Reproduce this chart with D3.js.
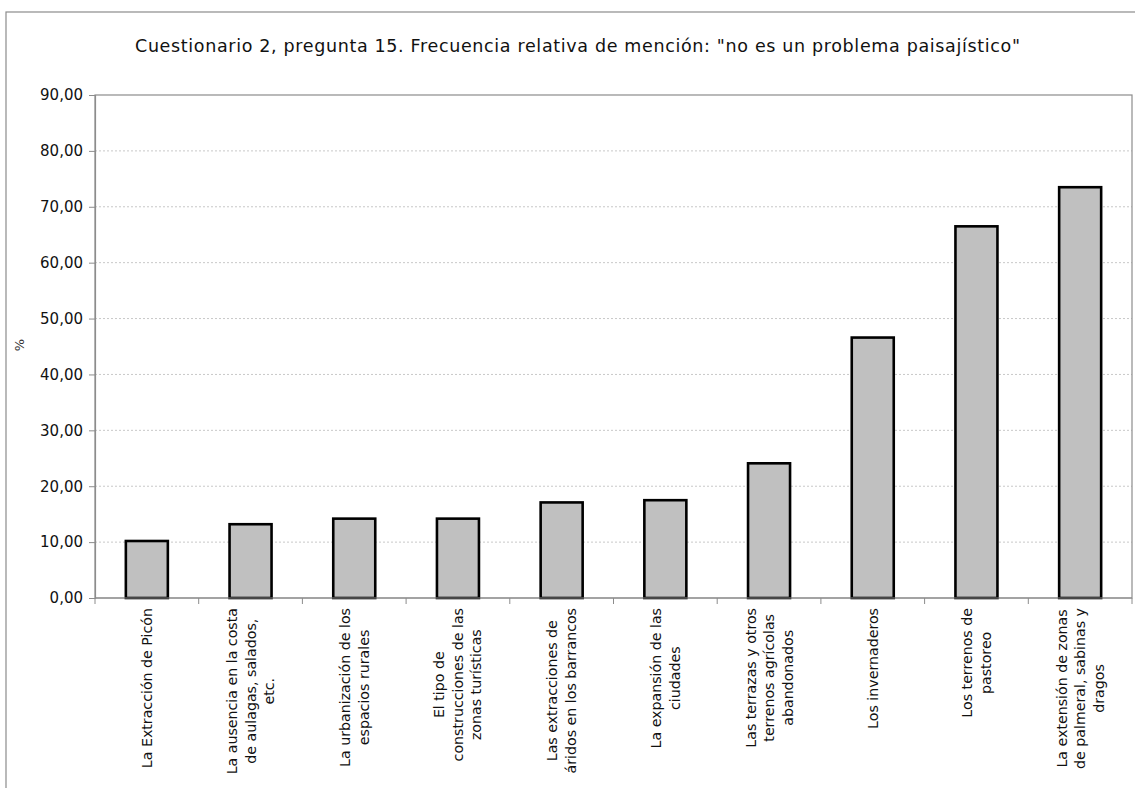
<!DOCTYPE html>
<html><head><meta charset="utf-8">
<script src="https://cdn.jsdelivr.net/npm/d3@7"></script>
<style>body{margin:0;background:#fff}svg{display:block}</style>
</head><body>
<svg id="c" width="1135" height="788"></svg>
<script>
const title = 'Cuestionario 2, pregunta 15. Frecuencia relativa de mención: "no es un problema paisajístico"';
const categories = [
  ["La Extracción de  Picón"],
  ["La ausencia en la costa", "de aulagas, salados,", "etc."],
  ["La urbanización de los", "espacios rurales"],
  ["El tipo de", "construcciones de las", "zonas turísticas"],
  ["Las extracciones de", "áridos en los barrancos"],
  ["La expansión de las", "ciudades"],
  ["Las terrazas y otros", "terrenos agrícolas", "abandonados"],
  ["Los invernaderos"],
  ["Los terrenos de", "pastoreo"],
  ["La extensión de zonas", "de palmeral, sabinas y", "dragos"]
];
const values = [10.2, 13.2, 14.2, 14.2, 17.1, 17.5, 24.1, 46.6, 66.5, 73.5];
const yTicks = [0, 10, 20, 30, 40, 50, 60, 70, 80, 90];
const yLabel = "%";

const svg = d3.select("#c");
const m = {left: 95, right: 1132, top: 95, bottom: 598};
const font = "'DejaVu Sans', Verdana, sans-serif";

// outer frame
svg.append("rect").attr("x", 6).attr("y", 12).attr("width", 1140).attr("height", 800)
  .attr("fill", "none").attr("stroke", "#8c8c8c").attr("stroke-width", 1.2);

svg.append("text").attr("x", 135).attr("y", 52)
  .attr("font-family", font).attr("font-size", 17.5)
  .attr("textLength", 885).attr("lengthAdjust", "spacing")
  .attr("fill", "#111").text(title);

const x = d3.scaleBand().domain(d3.range(categories.length)).range([m.left, m.right]).paddingInner(0).paddingOuter(0);
const y = d3.scaleLinear().domain([0, 90]).range([m.bottom, m.top]);

// gridlines
svg.append("g").selectAll("line").data(yTicks.filter(t => t > 0 && t < 90)).join("line")
  .attr("x1", m.left).attr("x2", m.right).attr("y1", d => y(d)).attr("y2", d => y(d))
  .attr("stroke", "#c8c8c8").attr("stroke-width", 1).attr("stroke-dasharray", "2,2");

// plot frame
svg.append("rect").attr("x", m.left).attr("y", m.top).attr("width", m.right - m.left).attr("height", m.bottom - m.top)
  .attr("fill", "none").attr("stroke", "#8c8c8c").attr("stroke-width", 1.2);

// bars
const bw = x.bandwidth() * 0.405;
svg.append("g").selectAll("rect").data(values).join("rect")
  .attr("x", (d, i) => x(i) + x.bandwidth() / 2 - bw / 2)
  .attr("y", d => y(d))
  .attr("width", bw)
  .attr("height", d => y(0) - y(d))
  .attr("fill", "#c0c0c0").attr("stroke", "#000").attr("stroke-width", 2.6);

// y axis
const yAxis = svg.append("g").attr("transform", `translate(${m.left},0)`)
  .call(d3.axisLeft(y).tickValues(yTicks).tickSize(6).tickPadding(6)
    .tickFormat(d => d3.format(".2f")(d).replace(".", ",")));
yAxis.select(".domain").attr("stroke", "#8c8c8c").attr("stroke-width", 1.2);
yAxis.selectAll(".tick line").attr("stroke", "#8c8c8c");
yAxis.selectAll(".tick text").attr("font-family", font).attr("font-size", 15).attr("fill", "#111");

// x axis ticks between categories
const xb = svg.append("g");
xb.append("line").attr("x1", m.left).attr("x2", m.right).attr("y1", m.bottom).attr("y2", m.bottom)
  .attr("stroke", "#8c8c8c").attr("stroke-width", 1.2);
xb.selectAll("line.t").data(d3.range(categories.length + 1)).join("line").attr("class", "t")
  .attr("x1", i => m.left + i * x.step()).attr("x2", i => m.left + i * x.step())
  .attr("y1", m.bottom).attr("y2", m.bottom + 6).attr("stroke", "#8c8c8c");

// category labels
const lh = 18.5;
categories.forEach((lines, i) => {
  const cx = x(i) + x.bandwidth() / 2;
  const n = lines.length;
  const g = svg.append("g").attr("transform", `translate(${cx},608) rotate(-90)`);
  const t = g.append("text").attr("font-family", font).attr("font-size", 14.2).attr("fill", "#111");
  lines.forEach((l, k) => {
    t.append("tspan").attr("x", 0).attr("y", (k - (n - 1) / 2) * lh + 5).text(l);
  });
  const maxW = t.node().getBBox().width;
  t.attr("text-anchor", "middle");
  t.selectAll("tspan").attr("x", -maxW / 2);
});

svg.append("text").attr("transform", "translate(24,345) rotate(-90)").attr("text-anchor", "middle")
  .attr("font-family", font).attr("font-size", 13).attr("fill", "#333").text(yLabel);
</script>
</body></html>
